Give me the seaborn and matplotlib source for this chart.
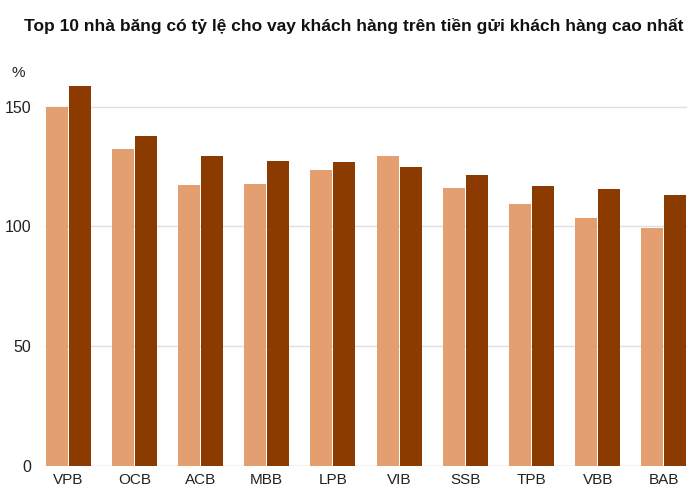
import matplotlib
matplotlib.use("Agg")
import matplotlib.pyplot as plt
import seaborn as sns
import pandas as pd

banks = ["VPB", "OCB", "ACB", "MBB", "LPB", "VIB", "SSB", "TPB", "VBB", "BAB"]
series_names = ["Kỳ trước", "Kỳ này"]
values_prev = [150.0, 132.5, 117.3, 117.7, 123.6, 129.5, 115.9, 109.5, 103.6, 99.5]
values_curr = [158.5, 137.9, 129.3, 127.5, 127.0, 124.9, 121.5, 117.1, 115.6, 113.2]
y_ticks = [0, 50, 100, 150]
title = "Top 10 nhà băng có tỷ lệ cho vay khách hàng trên tiền gửi khách hàng cao nhất"

df = pd.DataFrame({
    "bank": banks * 2,
    "series": [series_names[0]] * len(banks) + [series_names[1]] * len(banks),
    "value": values_prev + values_curr,
})

sns.set_theme(style="white")
plt.rcParams["font.family"] = ["DejaVu Sans"]

fig = plt.figure(figsize=(7, 5), dpi=100)
ax = fig.add_axes([45 / 700, 1 - 466 / 500, 642 / 700, (466 - 78) / 500])

sns.barplot(data=df, x="bank", y="value", hue="series", order=banks,
            hue_order=series_names, palette=["#E39F6F", "#8B3A00"],
            width=0.7, gap=0.05, saturation=1, ax=ax, legend=False, zorder=3,
            linewidth=0)

ax.set_xlim(-0.35, 9.35)
ax.set_ylim(0, 162)
ax.set_yticks(y_ticks)
ax.yaxis.grid(True, color="#e0e0e0", linewidth=1, zorder=0)
ax.set_axisbelow(True)
for s in ["top", "right", "left", "bottom"]:
    ax.spines[s].set_visible(False)
ax.axhline(0, color="#e6e6e6", linewidth=1, zorder=1)
ax.set_xlabel("")
ax.set_ylabel("")
tick_font = ["Liberation Sans Narrow", "Liberation Sans", "DejaVu Sans"]
ax.tick_params(axis="x", length=0, pad=5, labelsize=11, labelcolor="#222222")
ax.tick_params(axis="y", length=0, pad=10, labelsize=11.5, labelcolor="#222222")
for lab in ax.get_xticklabels() + ax.get_yticklabels():
    lab.set_family(tick_font)

fig.text(12 / 700, 1 - 73 / 500, "%", ha="left", va="center", fontsize=11,
         color="#222222", family=tick_font)
fig.text(354 / 700, 1 - 26 / 500, title, ha="center", va="center", fontsize=12.5,
         fontweight="bold", color="#111111",
         family=["Liberation Sans", "DejaVu Sans"])

fig.savefig("out.png", dpi=100)
